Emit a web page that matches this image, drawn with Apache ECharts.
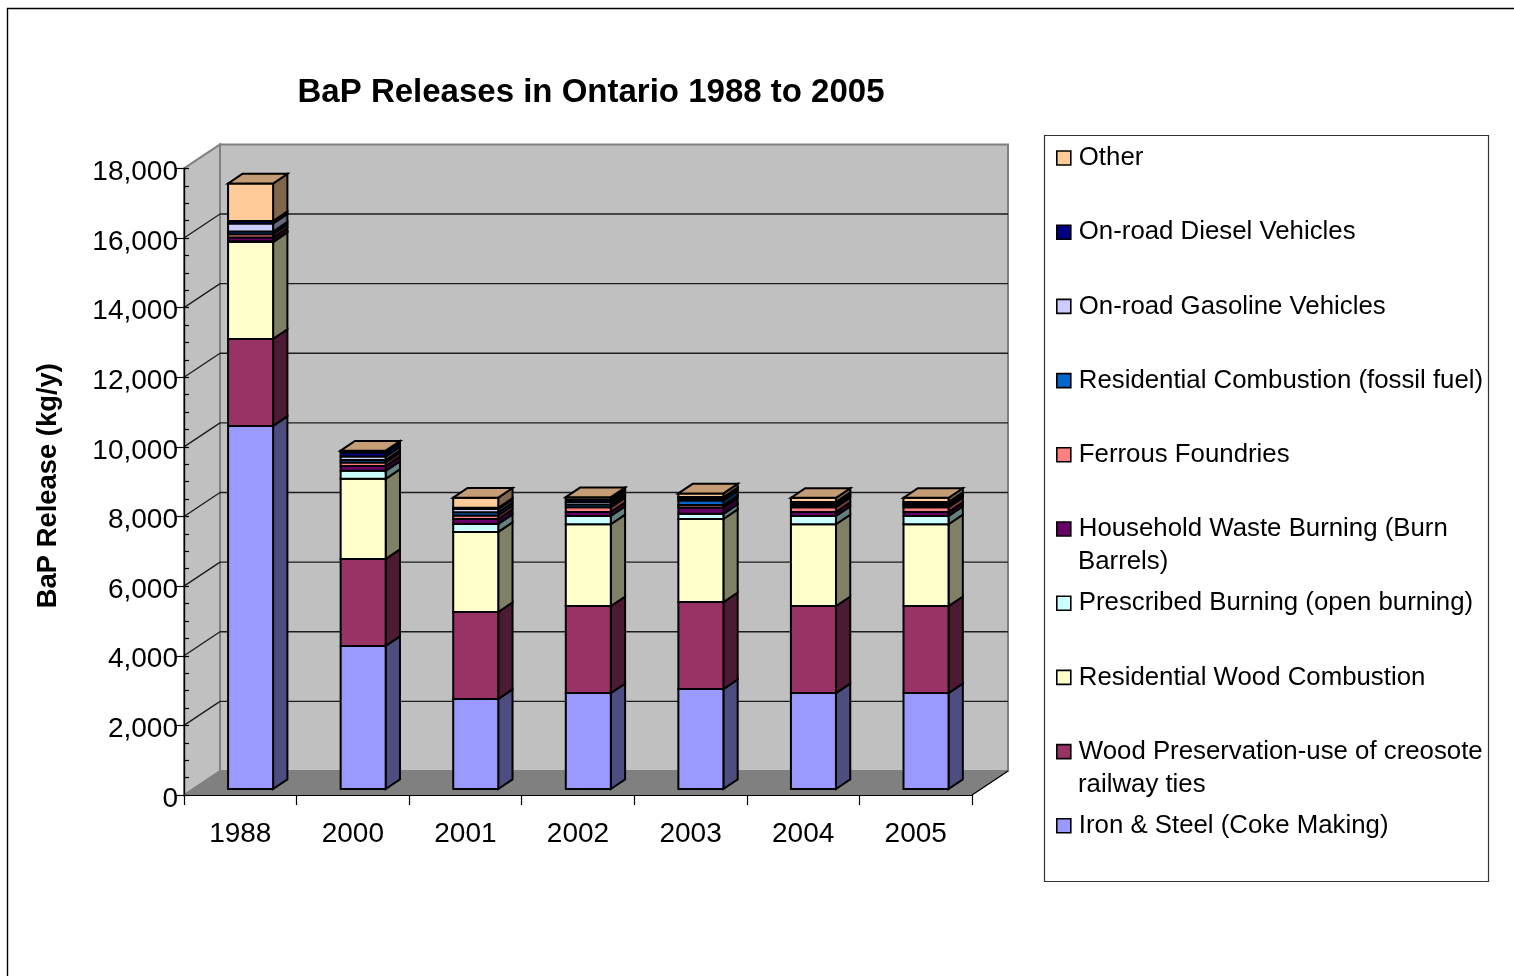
<!DOCTYPE html>
<html><head><meta charset="utf-8">
<style>html,body{margin:0;padding:0;background:#fff}#c{width:1514px;height:976px}</style>
<script src="https://cdn.jsdelivr.net/npm/echarts@6/dist/echarts.min.js"></script>
</head><body><div id="c"></div>
<script>
const years = ['1988','2000','2001','2002','2003','2004','2005'];
const ironSteel   = [10430,4110,2585,2755,2870,2755,2755];
const woodPres    = [2500,2500,2500,2500,2500,2500,2500];
const resWood     = [2780,2300,2300,2350,2385,2350,2350];
const prescribed  = [25,230,230,240,150,240,240];
const household   = [110,140,140,115,185,115,115];
const ferrous     = [90,100,105,135,65,135,135];
const resFossil   = [80,70,90,75,130,50,50];
const gasoline    = [230,100,90,75,60,50,50];
const diesel      = [70,120,40,70,40,50,50];
const other       = [1080,50,290,68,105,118,118];
const seriesNames = ['Iron & Steel (Coke Making)','Wood Preservation-use of creosote railway ties','Residential Wood Combustion','Prescribed Burning (open burning)','Household Waste Burning (Burn Barrels)','Ferrous Foundries','Residential Combustion (fossil fuel)','On-road Gasoline Vehicles','On-road Diesel Vehicles','Other'];
const seriesValues = [ironSteel,woodPres,resWood,prescribed,household,ferrous,resFossil,gasoline,diesel,other];
const seriesColors = ['#9999FF','#993366','#FFFFCC','#CCFFFF','#660066','#FF8080','#0066CC','#CCCCFF','#000080','#FFCC99'];
const legendFirstLine = ['Iron & Steel (Coke Making)','Wood Preservation-use of creosote','Residential Wood Combustion','Prescribed Burning (open burning)','Household Waste Burning (Burn','Ferrous Foundries','Residential Combustion (fossil fuel)','On-road Gasoline Vehicles','On-road Diesel Vehicles','Other'];
const legendSecondLine = {1:'railway ties',4:'Barrels)'};
const gridValues = [2000,4000,6000,8000,10000,12000,14000,16000];

const FONT = '"Liberation Sans", Arial, sans-serif';
const shade = (hex,f)=>{const n=parseInt(hex.slice(1),16);const c=s=>Math.round(((n>>s)&255)*f);return `rgb(${c(16)},${c(8)},${c(0)})`;};

const chart = echarts.init(document.getElementById('c'),null,{renderer:'canvas'});
const GRID = {left:184,top:168.4,width:788,height:626.6};
const band = GRID.width/years.length;
const wallDx = 0.32*band, wallDy = 0.2132*band;
const barOffX = 0.0915*band, barOffY = 0.0533*band;
const barW = 0.4*band, barDx = 0.127*band, barDy = 0.0853*band;
const poly = (points,fill,extra)=>({type:'polygon',shape:{points},style:Object.assign({fill,stroke:'#000',lineWidth:2,lineJoin:'miter'},extra||{})});

const series = [];
series.push({type:'custom',name:'_walls',z:1,silent:true,clip:false,coordinateSystem:'cartesian2d',
  data:[[0,0]],encode:{x:0,y:1},
  renderItem(p,api){
    const c=p.coordSys,x0=c.x,x1=c.x+c.width,yT=c.y,yB=c.y+c.height,d=wallDx,e=wallDy;
    const s={stroke:'#808080',lineWidth:2};
    return {type:'group',children:[
      poly([[x0+d,yT-e],[x1+d,yT-e],[x1+d,yB-e],[x0+d,yB-e]],'#C0C0C0',s),
      poly([[x0,yT],[x0+d,yT-e],[x0+d,yB-e],[x0,yB]],'#C0C0C0',s),
      poly([[x0,yB],[x0+d,yB-e],[x1+d,yB-e],[x1,yB]],'#808080',{stroke:'#808080',lineWidth:1}),
      {type:'line',shape:{x1:x1,y1:yB,x2:x1+d,y2:yB-e},style:{stroke:'#000',lineWidth:1.2}}
    ]};
  }});
series.push({type:'custom',name:'_grid',z:2,silent:true,clip:false,coordinateSystem:'cartesian2d',
  data:gridValues.map(v=>[0,v]),encode:{x:0,y:1},
  renderItem(p,api){
    const c=p.coordSys,y=api.coord([0,api.value(1)])[1];
    const st={stroke:'#1c1c1c',lineWidth:1.3};
    return {type:'group',children:[
      {type:'line',shape:{x1:c.x,y1:y,x2:c.x+wallDx,y2:y-wallDy},style:st},
      {type:'line',shape:{x1:c.x+wallDx,y1:y-wallDy,x2:c.x+c.width+wallDx,y2:y-wallDy},style:st}
    ]};
  }});
seriesNames.forEach((name,si)=>{
  const data = years.map((_,i)=>{
    let start=0; for(let k=0;k<si;k++) start+=seriesValues[k][i];
    return [i,start,start+seriesValues[si][i]];
  });
  const col=seriesColors[si], last=si===seriesNames.length-1;
  series.push({type:'custom',name,z:6+si,clip:false,silent:true,coordinateSystem:'cartesian2d',
    itemStyle:{color:col},data,encode:{x:0,y:[1,2]},
    renderItem(p,api){
      const a=api.coord([api.value(0),api.value(1)]),b=api.coord([api.value(0),api.value(2)]);
      const L=a[0]+barOffX-barW/2,R=L+barW,y0=a[1]-barOffY,y1=b[1]-barOffY;
      const ch=[
        poly([[R,y0],[R+barDx,y0-barDy],[R+barDx,y1-barDy],[R,y1]],shade(col,0.5)),
        poly([[L,y0],[R,y0],[R,y1],[L,y1]],col)
      ];
      if(last) ch.push(poly([[L,y1],[L+barDx,y1-barDy],[R+barDx,y1-barDy],[R,y1]],shade(col,0.77)));
      return {type:'group',children:ch};
    }});
});

const legendTop = 145, legendPitch = 74.2;
const legends = seriesNames.map((name,si)=>{
  const row = seriesNames.length-1-si;
  return {
    orient:'vertical',left:1056,top:legendTop+row*legendPitch,padding:0,itemWidth:14,itemHeight:14,
    selectedMode:false,
    data:[{name,icon:'rect',itemStyle:{color:seriesColors[si],borderColor:'#000',borderWidth:1.6}}],
    formatter:()=>legendFirstLine[si],
    textStyle:{fontFamily:FONT,fontSize:25.8,color:'#000',padding:[0,0,0,3]}
  };
});
const gfx = [
  {type:'rect',z:-10,silent:true,shape:{x:7.5,y:8.5,width:1600,height:1100},style:{fill:'#fff',stroke:'#000',lineWidth:1.4}},
  {type:'rect',z:-9,silent:true,shape:{x:1044.5,y:135.5,width:444,height:746},style:{fill:'#fff',stroke:'#333',lineWidth:1.2}}
];
Object.keys(legendSecondLine).forEach(si=>{
  const row=seriesNames.length-1-si;
  gfx.push({type:'text',z:10,silent:true,style:{x:1078,y:legendTop+row*legendPitch+46,text:legendSecondLine[si],fontFamily:FONT,fontSize:25.8,fill:'#000',verticalAlign:'middle'}});
});

const yBase = {type:'value',min:0,max:18000,interval:2000,position:'left',z:5,splitLine:{show:false},
  axisLine:{show:true,onZero:false,lineStyle:{color:'#000',width:1.2}}};
chart.setOption({
  animation:false,backgroundColor:'#fff',
  title:{text:'BaP Releases in Ontario 1988 to 2005',left:591,textAlign:'center',top:76,padding:0,
    textStyle:{fontFamily:FONT,fontWeight:'bold',fontSize:33,color:'#000'}},
  grid:GRID,
  xAxis:{type:'category',data:years,z:5,axisLine:{show:true,lineStyle:{color:'#000',width:1.2}},
    axisTick:{show:true,length:10,lineStyle:{color:'#000',width:1.2}},
    axisLabel:{fontFamily:FONT,fontSize:28,color:'#000',margin:25,interval:0}},
  yAxis:[
    Object.assign({},yBase,{name:'BaP Release (kg/y)',nameLocation:'middle',nameGap:122,nameRotate:90,
      nameTextStyle:{fontFamily:FONT,fontWeight:'bold',fontSize:27.4,color:'#000',padding:[0,8,0,0]},
      axisTick:{show:true,length:9,lineStyle:{color:'#000',width:1.2}},
      axisLabel:{fontFamily:FONT,fontSize:28,color:'#000',margin:6,verticalAlign:'top',padding:[-10,0,0,0],formatter:v=>v.toLocaleString('en-US')}}),
    Object.assign({},yBase,{axisLabel:{show:false},
      axisTick:{show:true,inside:true,length:5,lineStyle:{color:'#000',width:1.2}},
      minorTick:{show:true,splitNumber:4,length:5,lineStyle:{color:'#000',width:1.2}}})
  ],
  legend:legends,
  graphic:gfx,
  series
});
</script></body></html>
